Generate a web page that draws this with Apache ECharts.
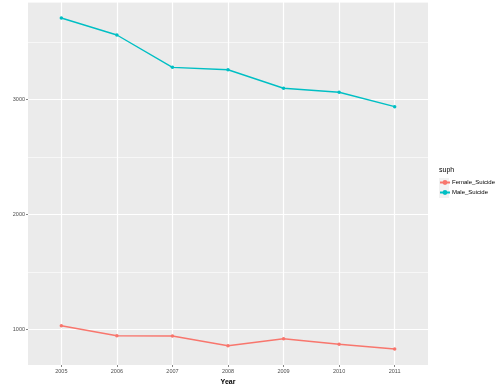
<!DOCTYPE html>
<html><head><meta charset="utf-8">
<script src="https://cdn.jsdelivr.net/npm/echarts@6/dist/echarts.min.js"></script>
<style>html,body{margin:0;padding:0;background:#fff}#c{width:498px;height:386px}</style>
</head><body><div id="c"></div>
<script>
const years = [2005, 2006, 2007, 2008, 2009, 2010, 2011];
const femaleSuicide = [1031, 944, 942, 857, 918, 870, 829];
const maleSuicide = [3707, 3559, 3278, 3257, 3096, 3061, 2936];
const yTicks = [1000, 2000, 3000];
const yMinor = [1500, 2500, 3500];
const seriesNames = ['Female_Suicide', 'Male_Suicide'];
const colors = ['#F8766D', '#00BFC4'];

const chart = echarts.init(document.getElementById('c'), null, {renderer: 'canvas'});
const font = 'Liberation Sans, Arial, sans-serif';
const mk = (name, vals, col) => ({
  name: name, type: 'line', data: years.map((y, i) => [y, vals[i]]),
  xAxisIndex: 0, yAxisIndex: 0,
  symbol: 'circle', symbolSize: 3.5, showSymbol: true,
  lineStyle: {color: col, width: 1.4}, itemStyle: {color: col},
  emphasis: {disabled: true}, z: 5
});
chart.setOption({
  animation: false,
  backgroundColor: '#ffffff',
  grid: {left: 28, top: 2, right: 70, bottom: 21, show: true, backgroundColor: '#EBEBEB', borderWidth: 0,
         containLabel: false, outerBoundsMode: 'none'},
  xAxis: [{
    type: 'value', min: 2004.4, max: 2011.6,
    name: 'Year', nameLocation: 'middle', nameGap: 12,
    nameTextStyle: {fontFamily: font, fontSize: 7, fontWeight: 'bold', color: '#000'},
    axisLine: {show: false},
    axisTick: {show: true, length: 2, lineStyle: {color: '#333', width: 0.6}, customValues: years},
    axisLabel: {fontFamily: font, fontSize: 5.5, color: '#4D4D4D', margin: 3, customValues: years, formatter: v => String(v)},
    splitLine: {show: true, lineStyle: {color: '#ffffff', width: 1.2}}
  }],
  yAxis: [{
    type: 'value', min: 690, max: 3846,
    name: 'Deaths', nameLocation: 'middle', nameGap: 21, nameRotate: 90,
    nameTextStyle: {fontFamily: font, fontSize: 7, fontWeight: 'bold', color: '#000'},
    axisLine: {show: false},
    axisTick: {show: true, length: 2, lineStyle: {color: '#333', width: 0.6}, customValues: yTicks},
    axisLabel: {fontFamily: font, fontSize: 5.5, color: '#4D4D4D', margin: 3, customValues: yTicks, formatter: v => String(v)},
    splitLine: {show: true, lineStyle: {color: '#ffffff', width: 1.2}}
  }, {
    type: 'value', min: 690, max: 3846, position: 'left',
    axisLine: {show: false}, axisTick: {show: false},
    axisLabel: {show: false, customValues: yMinor},
    splitLine: {show: true, lineStyle: {color: '#ffffff', width: 0.6}}
  }],
  legend: {
    show: true, left: 439, top: 179.5, orient: 'vertical', itemGap: 4, padding: 0,
    itemWidth: 10, itemHeight: 6,
    data: seriesNames,
    textStyle: {fontFamily: font, fontSize: 6, color: '#000', padding: [0, 0, 0, -3]},
    selectedMode: false
  },
  graphic: [
    {type: 'text', left: 439, top: 167, style: {text: 'suph', fontFamily: font, fontSize: 7, fill: '#000'}},
    {type: 'rect', shape: {x: 439, y: 178, width: 10, height: 10}, style: {fill: '#F2F2F2'}, z: -1},
    {type: 'rect', shape: {x: 439, y: 188, width: 10, height: 10}, style: {fill: '#F2F2F2'}, z: -1}
  ],
  series: [
    mk(seriesNames[0], femaleSuicide, colors[0]),
    mk(seriesNames[1], maleSuicide, colors[1]),
    {type: 'line', yAxisIndex: 1, data: [], silent: true}
  ]
});
</script></body></html>
